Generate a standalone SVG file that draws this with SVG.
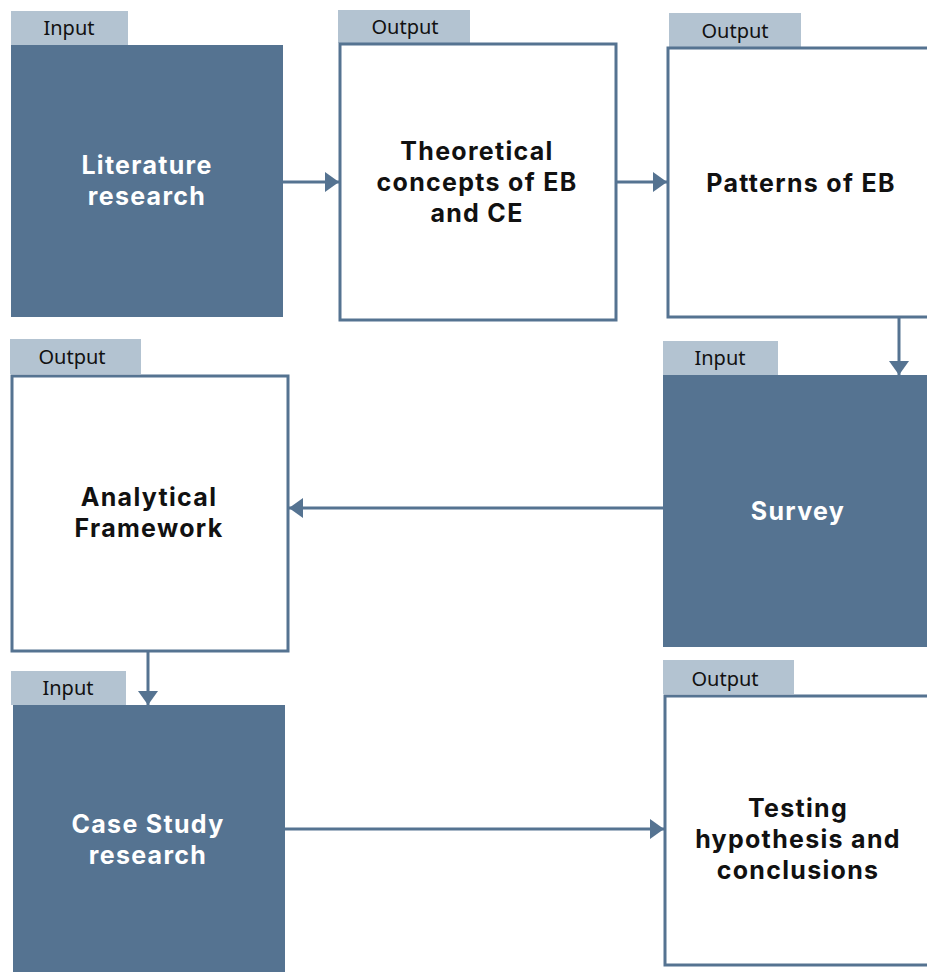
<svg xmlns="http://www.w3.org/2000/svg" width="927" height="972" viewBox="0 0 927 972">
  <style>
    .tab { fill: #b3c3d1; }
    .tabtxt { font-family: "Noto Sans", "DejaVu Sans", sans-serif; font-size: 20px; fill: #111; text-anchor: middle; }
    .fill { fill: #557391; }
    .outline { fill: #ffffff; stroke: #557391; stroke-width: 3; }
    .lbl { font-family: "Inter", "Open Sans", sans-serif; font-weight: 700; font-size: 25px; letter-spacing: 1.3px; text-anchor: middle; }
    .lbl-w { fill: #ffffff; }
    .lbl-d { fill: #111111; }
    .conn { stroke: #557391; stroke-width: 3; fill: none; }
  </style>
  <defs>
    <marker id="arrow" viewBox="0 0 14 20" refX="14" refY="10" markerWidth="14" markerHeight="20" markerUnits="userSpaceOnUse" orient="auto">
      <path d="M0,0 L14,10 L0,20 Z" fill="#557391"/>
    </marker>
  </defs>

  <rect width="927" height="972" fill="#ffffff"/>

  <g id="literature">
    <rect class="tab" x="11" y="11" width="117" height="34"/>
    <text class="tabtxt" x="69" y="35">Input</text>
    <rect class="fill" x="11" y="45" width="272" height="272"/>
    <text class="lbl lbl-w" x="147" y="174">Literature</text>
    <text class="lbl lbl-w" x="147" y="205">research</text>
  </g>

  <g id="theoretical">
    <rect class="tab" x="338" y="10" width="132" height="33"/>
    <text class="tabtxt" x="405" y="34">Output</text>
    <rect class="outline" x="340" y="44" width="276" height="276"/>
    <text class="lbl lbl-d" x="477" y="160">Theoretical</text>
    <text class="lbl lbl-d" x="477" y="191">concepts of EB</text>
    <text class="lbl lbl-d" x="477" y="222">and CE</text>
  </g>

  <g id="patterns">
    <rect class="tab" x="669" y="13" width="132" height="34"/>
    <text class="tabtxt" x="735" y="38">Output</text>
    <rect class="outline" x="668" y="48" width="270" height="269"/>
    <text class="lbl lbl-d" x="801" y="192">Patterns of EB</text>
  </g>

  <g id="survey">
    <rect class="tab" x="663" y="341" width="115" height="34"/>
    <text class="tabtxt" x="720" y="365">Input</text>
    <rect class="fill" x="663" y="375" width="264" height="272"/>
    <text class="lbl lbl-w" x="798" y="520">Survey</text>
  </g>

  <g id="analytical">
    <rect class="tab" x="10" y="339" width="131" height="35"/>
    <text class="tabtxt" x="72" y="364">Output</text>
    <rect class="outline" x="12" y="376" width="276" height="275"/>
    <text class="lbl lbl-d" x="149" y="506">Analytical</text>
    <text class="lbl lbl-d" x="149" y="537">Framework</text>
  </g>

  <g id="casestudy">
    <rect class="tab" x="11" y="671" width="115" height="34"/>
    <text class="tabtxt" x="68" y="695">Input</text>
    <rect class="fill" x="13" y="705" width="272" height="267"/>
    <text class="lbl lbl-w" x="148" y="833">Case Study</text>
    <text class="lbl lbl-w" x="148" y="864">research</text>
  </g>

  <g id="testing">
    <rect class="tab" x="663" y="660" width="131" height="34"/>
    <text class="tabtxt" x="725" y="686">Output</text>
    <rect class="outline" x="665" y="696" width="270" height="269"/>
    <text class="lbl lbl-d" x="798" y="817">Testing</text>
    <text class="lbl lbl-d" x="798" y="848">hypothesis and</text>
    <text class="lbl lbl-d" x="798" y="879">conclusions</text>
  </g>

  <g id="connectors">
    <line class="conn" x1="283" y1="182" x2="339" y2="182" marker-end="url(#arrow)"/>
    <line class="conn" x1="616" y1="182" x2="667" y2="182" marker-end="url(#arrow)"/>
    <line class="conn" x1="899" y1="317" x2="899" y2="375" marker-end="url(#arrow)"/>
    <line class="conn" x1="663" y1="508" x2="289" y2="508" marker-end="url(#arrow)"/>
    <line class="conn" x1="148" y1="651" x2="148" y2="705" marker-end="url(#arrow)"/>
    <line class="conn" x1="285" y1="829" x2="664" y2="829" marker-end="url(#arrow)"/>
  </g>
</svg>
